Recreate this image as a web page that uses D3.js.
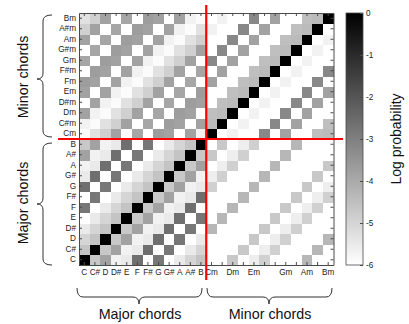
<!DOCTYPE html>
<html><head><meta charset="utf-8">
<script src="https://cdn.jsdelivr.net/npm/d3@7"></script>
<style>body{margin:0;background:#fff}svg{display:block}text{font-family:"Liberation Sans",Arial,sans-serif}</style>
</head><body><svg width="409" height="324"></svg>
<script>
const majorChords = ["C","C#","D","D#","E","F","F#","G","G#","A","A#","B"];
const minorChords = ["Cm","C#m","Dm","D#m","Em","Fm","F#m","Gm","G#m","Am","A#m","Bm"];
const xTickLabels = ["C","C#","D","D#","E","F","F#","G","G#","A","A#","B","Cm","Dm","Em","Gm","Am","Bm"];
const colorTicks = [0,-1,-2,-3,-4,-5,-6];

// log probabilities, rows = from-chord (C..B then Cm..Bm), columns = to-chord
const majToMaj = [
[0,-4.7,-3.8,-5.7,-5.5,-2.6,-6,-2.8,-6,-5.5,-5,-4.6],
[-4.6,0,-4.7,-3.8,-5.7,-5.5,-2.6,-6,-2.8,-6,-5.5,-5],
[-5,-4.6,0,-4.7,-3.8,-5.7,-5.5,-2.6,-6,-2.8,-6,-5.5],
[-5.5,-5,-4.6,0,-4.7,-3.8,-5.7,-5.5,-2.6,-6,-2.8,-6],
[-6,-5.5,-5,-4.6,0,-4.7,-3.8,-5.7,-5.5,-2.6,-6,-2.8],
[-2.8,-6,-5.5,-5,-4.6,0,-4.7,-3.8,-5.7,-5.5,-2.6,-6],
[-6,-2.8,-6,-5.5,-5,-4.6,0,-4.7,-3.8,-5.7,-5.5,-2.6],
[-2.6,-6,-2.8,-6,-5.5,-5,-4.6,0,-4.7,-3.8,-5.7,-5.5],
[-5.5,-2.6,-6,-2.8,-6,-5.5,-5,-4.6,0,-4.7,-3.8,-5.7],
[-5.7,-5.5,-2.6,-6,-2.8,-6,-5.5,-5,-4.6,0,-4.7,-3.8],
[-3.8,-5.7,-5.5,-2.6,-6,-2.8,-6,-5.5,-5,-4.6,0,-4.7],
[-4.7,-3.8,-5.7,-5.5,-2.6,-6,-2.8,-6,-5.5,-5,-4.6,0]
];
const majToMin = [
[-6,-6,-4.7,-6,-5.6,-4.9,-6,-6,-6,-4.3,-6,-6],
[-6,-6,-6,-4.7,-6,-5.6,-4.9,-6,-6,-6,-4.3,-6],
[-6,-6,-6,-6,-4.7,-6,-5.6,-4.9,-6,-6,-6,-4.3],
[-4.3,-6,-6,-6,-6,-4.7,-6,-5.6,-4.9,-6,-6,-6],
[-6,-4.3,-6,-6,-6,-6,-4.7,-6,-5.6,-4.9,-6,-6],
[-6,-6,-4.3,-6,-6,-6,-6,-4.7,-6,-5.6,-4.9,-6],
[-6,-6,-6,-4.3,-6,-6,-6,-6,-4.7,-6,-5.6,-4.9],
[-4.9,-6,-6,-6,-4.3,-6,-6,-6,-6,-4.7,-6,-5.6],
[-5.6,-4.9,-6,-6,-6,-4.3,-6,-6,-6,-6,-4.7,-6],
[-6,-5.6,-4.9,-6,-6,-6,-4.3,-6,-6,-6,-6,-4.7],
[-4.7,-6,-5.6,-4.9,-6,-6,-6,-4.3,-6,-6,-6,-6],
[-6,-4.7,-6,-5.6,-4.9,-6,-6,-6,-4.3,-6,-6,-6]
];
const minToMaj = [
[-5.9,-5.3,-4.9,-3.8,-6,-3.9,-6,-3.7,-3.8,-6,-3.8,-5.7],
[-5.7,-5.9,-5.3,-4.9,-3.8,-6,-3.9,-6,-3.7,-3.8,-6,-3.8],
[-3.8,-5.7,-5.9,-5.3,-4.9,-3.8,-6,-3.9,-6,-3.7,-3.8,-6],
[-6,-3.8,-5.7,-5.9,-5.3,-4.9,-3.8,-6,-3.9,-6,-3.7,-3.8],
[-3.8,-6,-3.8,-5.7,-5.9,-5.3,-4.9,-3.8,-6,-3.9,-6,-3.7],
[-3.7,-3.8,-6,-3.8,-5.7,-5.9,-5.3,-4.9,-3.8,-6,-3.9,-6],
[-6,-3.7,-3.8,-6,-3.8,-5.7,-5.9,-5.3,-4.9,-3.8,-6,-3.9],
[-3.9,-6,-3.7,-3.8,-6,-3.8,-5.7,-5.9,-5.3,-4.9,-3.8,-6],
[-6,-3.9,-6,-3.7,-3.8,-6,-3.8,-5.7,-5.9,-5.3,-4.9,-3.8],
[-3.8,-6,-3.9,-6,-3.7,-3.8,-6,-3.8,-5.7,-5.9,-5.3,-4.9],
[-4.9,-3.8,-6,-3.9,-6,-3.7,-3.8,-6,-3.8,-5.7,-5.9,-5.3],
[-5.3,-4.9,-3.8,-6,-3.9,-6,-3.7,-3.8,-6,-3.8,-5.7,-5.9]
];
const minToMin = [
[0,-6,-5.7,-6,-6,-3.2,-6,-3.8,-6,-6,-4.5,-4.4],
[-4.4,0,-6,-5.7,-6,-6,-3.2,-6,-3.8,-6,-6,-4.5],
[-4.5,-4.4,0,-6,-5.7,-6,-6,-3.2,-6,-3.8,-6,-6],
[-6,-4.5,-4.4,0,-6,-5.7,-6,-6,-3.2,-6,-3.8,-6],
[-6,-6,-4.5,-4.4,0,-6,-5.7,-6,-6,-3.2,-6,-3.8],
[-3.8,-6,-6,-4.5,-4.4,0,-6,-5.7,-6,-6,-3.2,-6],
[-6,-3.8,-6,-6,-4.5,-4.4,0,-6,-5.7,-6,-6,-3.2],
[-3.2,-6,-3.8,-6,-6,-4.5,-4.4,0,-6,-5.7,-6,-6],
[-6,-3.2,-6,-3.8,-6,-6,-4.5,-4.4,0,-6,-5.7,-6],
[-6,-6,-3.2,-6,-3.8,-6,-6,-4.5,-4.4,0,-6,-5.7],
[-5.7,-6,-6,-3.2,-6,-3.8,-6,-6,-4.5,-4.4,0,-6],
[-6,-5.7,-6,-6,-3.2,-6,-3.8,-6,-6,-4.5,-4.4,0]
];

const chords = majorChords.concat(minorChords);
const matrix = majToMaj.map((r,i)=>r.concat(majToMin[i]))
  .concat(minToMaj.map((r,i)=>r.concat(minToMin[i])));

const svg = d3.select("svg");
const L = 79, R = 333.5, T = 13, B = 265;
const x = d3.scaleBand().domain(chords).range([L, R]);
const y = d3.scaleBand().domain(chords).range([B, T]);
const color = d3.scaleLinear().domain([-6, 0]).range(["#ffffff", "#000000"]).clamp(true);
const axisColor = "#4a4a4a";

const cells = [];
matrix.forEach((row, i) => row.forEach((v, j) => cells.push({r: chords[i], c: chords[j], v})));
svg.append("g").attr("shape-rendering", "crispEdges")
  .selectAll("rect").data(cells).join("rect")
  .attr("x", d => x(d.c)).attr("y", d => y(d.r))
  .attr("width", x.bandwidth() + 0.5).attr("height", y.bandwidth() + 0.5)
  .attr("fill", d => color(d.v));

function styleAxis(g) {
  g.attr("font-family", '"Liberation Sans", Arial, sans-serif').attr("font-size", 8.2);
  g.selectAll("line,path").attr("stroke", axisColor);
  g.selectAll("text").attr("fill", "#222");
}
svg.append("g").attr("transform", `translate(${L},0)`)
  .call(d3.axisLeft(y).tickSize(-3).tickSizeOuter(0).tickPadding(3)).call(styleAxis);
svg.append("g").attr("transform", `translate(${R},0)`)
  .call(d3.axisRight(y).tickSize(-3).tickSizeOuter(0).tickFormat("")).call(styleAxis);
svg.append("g").attr("transform", `translate(0,${T})`)
  .call(d3.axisTop(x).tickSize(-3).tickSizeOuter(0).tickFormat("")).call(styleAxis);
svg.append("g").attr("transform", `translate(0,${B})`)
  .call(d3.axisBottom(x).tickSize(-3).tickSizeOuter(0).tickPadding(4)
    .tickFormat(d => xTickLabels.includes(d) ? d : "")).call(styleAxis);

// colorbar
const cbX = 346, cbW = 17, cbT = 13, cbB = 265;
const grad = svg.append("defs").append("linearGradient").attr("id", "cb")
  .attr("x1", 0).attr("y1", 0).attr("x2", 0).attr("y2", 1);
grad.append("stop").attr("offset", 0).attr("stop-color", color(0));
grad.append("stop").attr("offset", 1).attr("stop-color", color(-6));
svg.append("rect").attr("x", cbX).attr("y", cbT).attr("width", cbW).attr("height", cbB - cbT)
  .attr("fill", "url(#cb)").attr("stroke", axisColor).attr("stroke-width", 0.8);
const cy = d3.scaleLinear().domain([-6, 0]).range([cbB, cbT]);
svg.append("g").attr("transform", `translate(${cbX + cbW},0)`)
  .call(d3.axisRight(cy).tickValues(colorTicks).tickSize(-3).tickSizeOuter(0).tickPadding(3)
    .tickFormat(d => String(d))).call(styleAxis)
  .select(".domain").remove();
svg.append("text").attr("transform", "translate(401,139) rotate(-90)")
  .attr("text-anchor", "middle").attr("font-size", 14).attr("fill", "#111").text("Log probability");

// red separators
svg.append("line").attr("x1", x("Cm")).attr("x2", x("Cm")).attr("y1", 5).attr("y2", 280)
  .attr("stroke", "#ff0000").attr("stroke-width", 2.2);
svg.append("line").attr("x1", 58).attr("x2", 343).attr("y1", y("B")).attr("y2", y("B"))
  .attr("stroke", "#ff0000").attr("stroke-width", 2.2);

// braces
function vBrace(y1, y2, ym, xe, xs, xt) {
  const r = 6;
  return `M${xe},${y1} Q${xs},${y1} ${xs},${y1 + r} L${xs},${ym - r} Q${xs},${ym} ${xt},${ym}` +
         ` Q${xs},${ym} ${xs},${ym + r} L${xs},${y2 - r} Q${xs},${y2} ${xe},${y2}`;
}
function hBrace(x1, x2, xm, ye, ys, yt) {
  const r = 6;
  return `M${x1},${ye} Q${x1},${ys} ${x1 + r},${ys} L${xm - r},${ys} Q${xm},${ys} ${xm},${yt}` +
         ` Q${xm},${ys} ${xm + r},${ys} L${x2 - r},${ys} Q${x2},${ys} ${x2},${ye}`;
}
const braceG = svg.append("g").attr("fill", "none").attr("stroke", "#333").attr("stroke-width", 1);
braceG.append("path").attr("d", vBrace(15, 137, 79, 52, 43, 37));
braceG.append("path").attr("d", vBrace(143, 265, 204, 52, 43, 37));
braceG.append("path").attr("d", hBrace(77, 202, 139, 288, 297, 304));
braceG.append("path").attr("d", hBrace(207, 332, 269, 288, 297, 304));

svg.append("text").attr("transform", "translate(28,77) rotate(-90)").attr("text-anchor", "middle")
  .attr("font-size", 14.3).attr("fill", "#111").text("Minor chords");
svg.append("text").attr("transform", "translate(28,203) rotate(-90)").attr("text-anchor", "middle")
  .attr("font-size", 14.3).attr("fill", "#111").text("Major chords");
svg.append("text").attr("x", 140).attr("y", 319).attr("text-anchor", "middle")
  .attr("font-size", 14.3).attr("fill", "#111").text("Major chords");
svg.append("text").attr("x", 270).attr("y", 319).attr("text-anchor", "middle")
  .attr("font-size", 14.3).attr("fill", "#111").text("Minor chords");
</script></body></html>
